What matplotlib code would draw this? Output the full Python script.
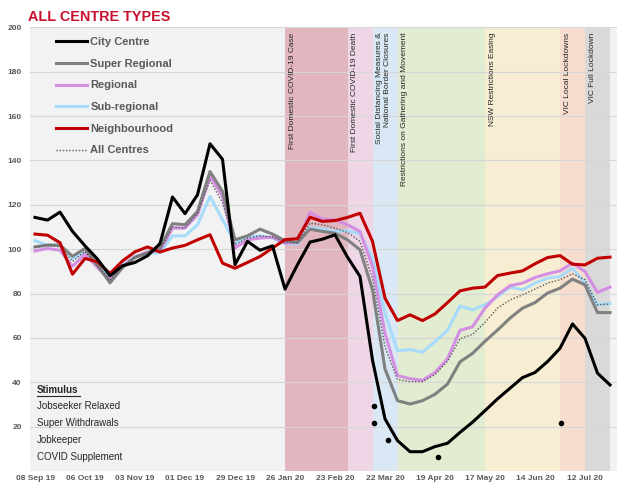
import numpy as np
import matplotlib
matplotlib.use("Agg")
import matplotlib.pyplot as plt

plt.rcParams['font.family'] = ['Liberation Sans', 'DejaVu Sans']

# weekly index, first week = 08 Sep 19
city_centre = [114.3, 113.1, 116.7, 108, 101.5, 95.5, 88, 92.5, 94, 97, 102.5,
               123.5, 116, 124.5, 147.5, 140.5, 93, 103.5, 99.5, 101.5, 82, 93,
               103.2, 104.5, 106.5, 96.4, 87.7, 50, 23.5, 13.7, 8.7, 8.7, 11,
               12.5, 17.4, 22, 27.2, 32.5, 37.3, 42.1, 44.4, 49.3, 55.3, 66.3,
               59.8, 44.1, 38.8]
super_regional = [101, 101.8, 101.8, 96.8, 100.3, 92.8, 84.8, 91.7, 96.2, 98.3,
                  100.8, 111.5, 111, 117, 135, 126, 104.2, 106, 109, 106.8,
                  103.8, 103, 109, 108, 107.2, 104.2, 99.7, 81.7, 46, 31.7,
                  30.2, 31.7, 34.6, 39.2, 49.2, 53, 58.5, 63.5, 68.9, 73.4,
                  75.9, 80.2, 82.4, 86.5, 83.9, 71.4, 71.4]
regional = [99.2, 100.3, 99.5, 92.3, 97.7, 91.7, 86, 92.3, 96.5, 98.8, 99.3,
            109.5, 109.5, 115.5, 132.9, 123.8, 100.5, 104.2, 105, 105.4, 102.7,
            103, 116.5, 113.5, 113.2, 111, 108, 92.2, 62.1, 43, 41.6, 40.9,
            44.4, 50.6, 63.4, 65, 73.4, 79.4, 83.5, 84.7, 87.2, 88.9, 90.2,
            93.7, 89.9, 80.5, 82.9]
sub_regional = [103.8, 101.8, 101.8, 95.8, 98.8, 93.5, 87.5, 92.8, 96.8, 98,
                98.5, 106, 106, 111, 123.8, 113.3, 102.7, 105.7, 106, 105,
                102.5, 102.3, 109.8, 109, 108, 108.3, 106.9, 95.9, 71.1, 54.2,
                54.7, 53.6, 58.3, 63.4, 74.4, 72.6, 74.9, 78.6, 82.9, 81.7,
                84.7, 86.9, 87.7, 91.4, 84.7, 74.9, 75.6]
neighbourhood = [106.8, 106.3, 102.9, 88.7, 95.8, 94.3, 89, 94.7, 98.8, 101,
                 98.7, 100.5, 101.7, 104.2, 106.5, 93.7, 91.4, 94, 96.7, 100.5,
                 104.3, 104.7, 114.4, 112.5, 112.9, 114.3, 116.2, 103.5, 77.9,
                 67.8, 70.4, 67.8, 70.8, 75.9, 81.2, 82.4, 82.9, 88.1, 89.2,
                 90.2, 93.4, 96.2, 97.1, 93.2, 92.9, 95.9, 96.4]
all_centres = [101, 102, 101, 94.5, 99, 92.5, 86, 92.5, 96.5, 98.5, 99.5, 110,
               109.5, 116, 131, 121, 102, 105, 106, 105.5, 103, 103, 111.7, 111,
               109.5, 107.5, 103.5, 86.9, 56, 41.2, 40.3, 40.3, 43.5, 49.5,
               59.6, 61.6, 67, 73.4, 77.1, 79.4, 82, 84.7, 86.2, 88.9, 86.2,
               74.9, 75.3]

tick_labels = ['08 Sep 19', '06 Oct 19', '03 Nov 19', '01 Dec 19', '29 Dec 19',
               '26 Jan 20', '23 Feb 20', '22 Mar 20', '19 Apr 20', '17 May 20',
               '14 Jun 20', '12 Jul 20']

# events: start week, end week, label, colour
event_start = [20, 25, 27, 29, 36, 42, 44]
event_end = [25, 27, 29, 36, 42, 44, 46]
event_labels = ['First Domestic COVID-19 Case', 'First Domestic COVID-19 Death',
                'Social Distancing Measures &\nNational Border Closures',
                'Restrictions on Gathering and Movement',
                'NSW Restrictions Easing', 'VIC Local Lockdowns',
                'VIC Full Lockdown']
event_colors = ['#e2b6be', '#efd6e7', '#d9e8f4', '#e2ecd1', '#f6edd3',
                '#f6ddce', '#d9d9d9']

stimulus = ['Jobseeker Relaxed', 'Super Withdrawals', 'Jobkeeper', 'COVID Supplement']
stimulus_rows = [29.5, 21.8, 14.1, 6.3]
stimulus_weeks = [[27.1], [27.1, 42.1], [28.2], [32.2]]

weeks = np.arange(len(city_centre))

fig = plt.figure(figsize=(6.24, 4.88), dpi=100)
ax = fig.add_axes([30 / 624, 17 / 488, 587 / 624, 443.7 / 488])
ax.set_facecolor('#f2f2f2')

for s, e, c in zip(event_start, event_end, event_colors):
    ax.axvspan(s, e, color=c, lw=0, zorder=0.2)
for s, lab in zip(event_start, event_labels):
    ax.text(s + 0.3, 197.6, lab, rotation=90, ha='left', va='top',
            multialignment='right', fontsize=6, color='#262626', zorder=3)

ax.set_axisbelow(True)
ax.yaxis.grid(True, color='#d6d6d6', lw=0.8)

ax.plot(weeks, sub_regional, color='#a6dbfb', lw=2.2, zorder=2, label='Sub-regional')
ax.plot(weeks, regional, color='#d48fe2', lw=2.2, zorder=2.1, label='Regional')
ax.plot(weeks, super_regional, color='#808080', lw=2.2, zorder=2.2, label='Super Regional')
ax.plot(weeks, all_centres, color='#595959', lw=1.0, ls=(0, (1, 1.3)), zorder=2.3, label='All Centres')
ax.plot(weeks, neighbourhood, color='#c00000', lw=2.2, zorder=2.4, label='Neighbourhood')
ax.plot(weeks, city_centre, color='black', lw=2.2, zorder=2.5, label='City Centre')

handles, labels = ax.get_legend_handles_labels()
order = ['City Centre', 'Super Regional', 'Regional', 'Sub-regional',
         'Neighbourhood', 'All Centres']
hmap = dict(zip(labels, handles))
leg = ax.legend([hmap[k] for k in order], order, loc='upper left',
                bbox_to_anchor=(0.044, 0.978), frameon=False, borderpad=0,
                borderaxespad=0, handlelength=2.8, handletextpad=0.3,
                labelspacing=1.05, prop={'weight': 'bold', 'size': 8},
                labelcolor='#595959')

# stimulus block
ax.text(0.14, 36.3, 'Stimulus', fontsize=7, fontweight='bold', color='#262626',
        va='center', ha='left', zorder=3)
for lab, y, wk in zip(stimulus, stimulus_rows, stimulus_weeks):
    ax.text(0.14, y, lab, fontsize=7, color='#262626', va='center', ha='left', zorder=3)
    ax.plot(wk, [y] * len(wk), 'o', color='black', ms=3, zorder=4)
ax.plot([0.14, 3.6], [33.9, 33.9], color='#262626', lw=0.8, zorder=3)

ax.set_xlim(-0.4, 46.56)
ax.set_ylim(0, 200)
ax.set_yticks(np.arange(20, 201, 20))
ax.set_xticks(np.arange(0, 4 * len(tick_labels), 4))
ax.set_xticklabels(tick_labels)
ax.tick_params(axis='both', length=0, labelsize=6, labelcolor='#595959', pad=3)
ax.tick_params(axis='y', pad=6)
for t in ax.get_xticklabels() + ax.get_yticklabels():
    t.set_fontweight('bold')
for sp in ax.spines.values():
    sp.set_visible(False)

fig.text(28 / 624, 1 - 17 / 488, 'ALL CENTRE TYPES', fontsize=10.4, fontweight='bold',
         color='#c8102e', va='center', ha='left')

fig.savefig('out.png', dpi=100)
